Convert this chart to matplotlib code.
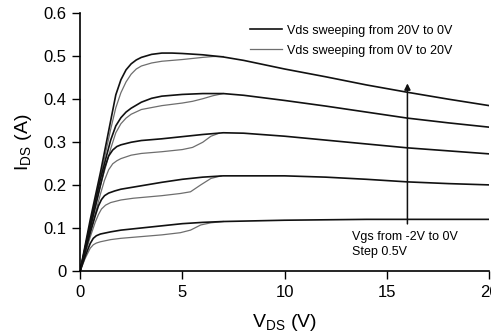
import matplotlib
matplotlib.use("Agg")
import matplotlib.pyplot as plt
from matplotlib.lines import Line2D

plt.rcParams['font.family'] = ['Liberation Sans', 'DejaVu Sans']

# Vgs = 0, -0.5, -1, -1.5, -2 V ; black = Vds swept 20V -> 0V, gray = 0V -> 20V
vds_b0 = [0, 0.5, 1.0, 1.5, 1.75, 2.0, 2.25, 2.5, 2.75, 3.0, 3.5, 4.0, 4.5, 5.0, 6.0, 7.0, 8.0, 10, 12, 14, 16, 18, 20]
ids_b0 = [0, 0.12, 0.23, 0.35, 0.41, 0.445, 0.468, 0.482, 0.491, 0.497, 0.504, 0.507, 0.507, 0.506, 0.503, 0.498, 0.49, 0.47, 0.452, 0.433, 0.416, 0.40, 0.385]
vds_g0 = [0, 0.5, 1.0, 1.5, 1.75, 2.0, 2.25, 2.5, 2.75, 3.0, 3.5, 4.0, 5.0, 6.0, 6.5, 7.0]
ids_g0 = [0, 0.11, 0.22, 0.33, 0.38, 0.415, 0.44, 0.458, 0.47, 0.477, 0.484, 0.488, 0.492, 0.497, 0.499, 0.499]

vds_b1 = [0, 0.5, 1.0, 1.5, 1.75, 2.0, 2.25, 2.5, 3.0, 3.5, 4.0, 5.0, 6.0, 7.0, 8.0, 10, 12, 14, 16, 18, 20]
ids_b1 = [0, 0.11, 0.215, 0.305, 0.338, 0.357, 0.37, 0.379, 0.393, 0.402, 0.407, 0.411, 0.413, 0.413, 0.409, 0.397, 0.384, 0.37, 0.356, 0.345, 0.335]
vds_g1 = [0, 0.5, 1.0, 1.5, 1.75, 2.0, 2.25, 2.5, 3.0, 4.0, 5.0, 5.5, 6.0, 6.5, 7.0]
ids_g1 = [0, 0.10, 0.2, 0.285, 0.322, 0.343, 0.356, 0.365, 0.376, 0.385, 0.391, 0.395, 0.401, 0.408, 0.413]

vds_b2 = [0, 0.5, 1.0, 1.2, 1.4, 1.6, 1.8, 2.0, 2.5, 3, 4, 5, 6, 7, 8, 10, 12, 14, 16, 18, 20]
ids_b2 = [0, 0.1, 0.2, 0.24, 0.268, 0.282, 0.29, 0.294, 0.3, 0.304, 0.308, 0.313, 0.318, 0.322, 0.321, 0.314, 0.305, 0.296, 0.287, 0.28, 0.273]
vds_g2 = [0, 0.5, 1.0, 1.2, 1.4, 1.6, 1.8, 2.0, 2.5, 3, 4, 5, 5.5, 6.0, 6.4, 6.8]
ids_g2 = [0, 0.09, 0.18, 0.212, 0.236, 0.25, 0.257, 0.262, 0.27, 0.274, 0.278, 0.283, 0.288, 0.3, 0.314, 0.321]

vds_b3 = [0, 0.5, 0.75, 0.9, 1.05, 1.2, 1.4, 1.7, 2.0, 3, 4, 5, 6, 7, 8, 10, 12, 14, 16, 18, 20]
ids_b3 = [0, 0.09, 0.13, 0.152, 0.167, 0.176, 0.182, 0.187, 0.191, 0.199, 0.207, 0.214, 0.219, 0.222, 0.222, 0.222, 0.219, 0.214, 0.208, 0.204, 0.201]
vds_g3 = [0, 0.5, 0.75, 0.9, 1.05, 1.25, 1.5, 2.0, 2.6, 4, 4.9, 5.4, 5.9, 6.4, 6.9]
ids_g3 = [0, 0.08, 0.115, 0.132, 0.145, 0.154, 0.16, 0.166, 0.17, 0.176, 0.181, 0.185, 0.201, 0.216, 0.222]

vds_b4 = [0, 0.25, 0.5, 0.65, 0.8, 1.0, 1.5, 2, 3, 4, 5, 6, 7, 8, 10, 12, 14, 16, 18, 20]
ids_b4 = [0, 0.035, 0.065, 0.077, 0.083, 0.087, 0.092, 0.096, 0.101, 0.106, 0.111, 0.114, 0.116, 0.117, 0.119, 0.12, 0.121, 0.121, 0.121, 0.121]
vds_g4 = [0, 0.25, 0.5, 0.65, 0.8, 1.0, 1.5, 2, 3, 4, 4.9, 5.4, 5.9, 6.4, 7]
ids_g4 = [0, 0.03, 0.054, 0.062, 0.066, 0.069, 0.074, 0.077, 0.081, 0.085, 0.09, 0.096, 0.108, 0.113, 0.116]

xticks = [0, 5, 10, 15, 20]
yticks = [0, 0.1, 0.2, 0.3, 0.4, 0.5, 0.6]
ytick_labels = ['0', '0.1', '0.2', '0.3', '0.4', '0.5', '0.6']

black = '#111111'
gray = '#6e6e6e'

fig = plt.figure(figsize=(4.91, 3.36), dpi=100)
ax = fig.add_axes([0.1629, 0.192, 0.8336, 0.7693])

for v, i in [(vds_g0, ids_g0), (vds_g1, ids_g1), (vds_g2, ids_g2), (vds_g3, ids_g3), (vds_g4, ids_g4)]:
    ax.plot(v, i, color=gray, lw=0.9)
for v, i in [(vds_b0, ids_b0), (vds_b1, ids_b1), (vds_b2, ids_b2), (vds_b3, ids_b3), (vds_b4, ids_b4)]:
    ax.plot(v, i, color=black, lw=1.2)

ax.set_xlim(0, 20)
ax.set_ylim(0, 0.6)
ax.set_xticks(xticks)
ax.set_yticks(yticks)
ax.set_yticklabels(ytick_labels)
ax.tick_params(labelsize=12, length=6, width=1, direction='out')
for pos in ['top', 'right']:
    ax.spines[pos].set_visible(False)
for pos in ['left', 'bottom']:
    ax.spines[pos].set_linewidth(1.2)

ax.set_xlabel('V$_\\mathregular{DS}$ (V)', fontsize=14, labelpad=9)
ax.set_ylabel('I$_\\mathregular{DS}$ (A)', fontsize=14, labelpad=7)

handles = [Line2D([], [], color=black, lw=1.2), Line2D([], [], color=gray, lw=0.9)]
ax.legend(handles, ['Vds sweeping from 20V to 0V', 'Vds sweeping from 0V to 20V'],
          loc='upper left', bbox_to_anchor=(0.415, 0.955), frameon=False, fontsize=9,
          borderpad=0, borderaxespad=0, handlelength=2.6, handletextpad=0.4, labelspacing=0.65)

ax.annotate('', xy=(16, 0.443), xytext=(16, 0.104),
            arrowprops=dict(arrowstyle='-|>', lw=1.1, color=black, mutation_scale=9))
ax.text(13.3, 0.081, 'Vgs from -2V to 0V', fontsize=9, va='center')
ax.text(13.3, 0.046, 'Step 0.5V', fontsize=9, va='center')

fig.savefig('out.png', dpi=100)
